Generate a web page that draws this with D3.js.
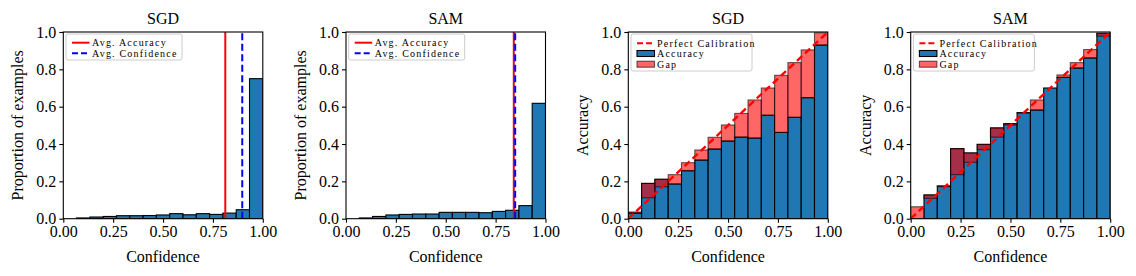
<!DOCTYPE html>
<html>
<head>
<meta charset="utf-8">
<script src="https://cdn.jsdelivr.net/npm/d3@7"></script>
<style>
  body { margin: 0; background: #fff; }
  text { font-family: "Liberation Serif", "Times New Roman", serif; fill: #000; }
  .tick text { font-family: "Liberation Serif", "Times New Roman", serif !important; font-size: 16px !important; }
</style>
</head>
<body>
<div id="chart"></div>
<script>
// 15 equal confidence bins on [0, 1]
var binCount = 15;

// proportion of examples per bin (left panels)
var sgdProp = [0.000, 0.004, 0.009, 0.012, 0.016, 0.016, 0.017, 0.020, 0.027, 0.021, 0.027, 0.023, 0.030, 0.048, 0.750];
var samProp = [0.000, 0.004, 0.012, 0.020, 0.023, 0.025, 0.025, 0.034, 0.034, 0.034, 0.032, 0.039, 0.045, 0.070, 0.618];

// avg accuracy / avg confidence lines
var sgdAvgAcc = 0.812, sgdAvgConf = 0.897;
var samAvgAcc = 0.841, samAvgConf = 0.848;

// reliability diagrams: accuracy and mean confidence per bin
var sgdAcc  = [0.030, 0.189, 0.211, 0.186, 0.257, 0.314, 0.373, 0.416, 0.437, 0.432, 0.554, 0.462, 0.543, 0.648, 0.930];
var sgdConf = [0.036, 0.112, 0.171, 0.236, 0.300, 0.368, 0.436, 0.502, 0.564, 0.636, 0.700, 0.768, 0.836, 0.904, 0.996];
var samAcc  = [0.000, 0.127, 0.175, 0.375, 0.352, 0.398, 0.486, 0.509, 0.568, 0.582, 0.700, 0.757, 0.807, 0.861, 0.993];
var samConf = [0.064, 0.109, 0.172, 0.236, 0.302, 0.370, 0.437, 0.502, 0.566, 0.636, 0.700, 0.770, 0.836, 0.906, 0.978];

var xTicks = [0, 0.25, 0.5, 0.75, 1];
var yTicks = [0, 0.2, 0.4, 0.6, 0.8, 1];

var blue = "#1f77b4";

var svgWidth = 1136, svgHeight = 276;
var plotTop = 32, plotH = 186.7, plotW = 199.5;

var svg = d3.select("#chart")
  .append("svg")
  .attr("width", svgWidth)
  .attr("height", svgHeight);

var bins = d3.range(binCount).map(i => ({ x0: i / binCount, x1: (i + 1) / binCount }));

// sets up one panel with axes, title and labels
function makePanel(id, left, title, yLabel) {
  var g = svg.append("g").attr("transform", `translate(${left}, ${plotTop})`);
  var x = d3.scaleLinear().domain([0, 1]).range([0, plotW]);
  var y = d3.scaleLinear().domain([0, 1]).range([plotH, 0]);

  g.append("clipPath").attr("id", "clip" + id)
    .append("rect").attr("width", plotW).attr("height", plotH);

  var xAxis = g.append("g")
    .attr("transform", `translate(0, ${plotH})`)
    .call(d3.axisBottom(x).tickValues(xTicks).tickFormat(d3.format(".2f")).tickSize(4).tickPadding(3));
  var yAxis = g.append("g")
    .call(d3.axisLeft(y).tickValues(yTicks).tickFormat(d3.format(".1f")).tickSize(4).tickPadding(3));
  [xAxis, yAxis].forEach(a => {
    a.attr("font-family", null).attr("font-size", null);
    a.select(".domain").remove();
    a.selectAll("line").attr("stroke", "#000").attr("stroke-width", 1.1);
  });

  g.append("text")
    .attr("x", plotW / 2).attr("y", -8.5)
    .attr("text-anchor", "middle")
    .style("font-size", "16px")
    .text(title);

  g.append("text")
    .attr("x", plotW / 2).attr("y", plotH + 43.5)
    .attr("text-anchor", "middle")
    .style("font-size", "16px")
    .text("Confidence");

  g.append("text")
    .attr("transform", `translate(-45.5, ${plotH / 2}) rotate(-90)`)
    .attr("text-anchor", "middle")
    .attr("dominant-baseline", "central")
    .style("font-size", "16px")
    .text(yLabel);

  var marks = g.append("g").attr("clip-path", `url(#clip${id})`);
  return { g: g, marks: marks, x: x, y: y };
}

function drawFrame(p) {
  p.g.append("rect")
    .attr("width", plotW).attr("height", plotH)
    .attr("fill", "none").attr("stroke", "#000").attr("stroke-width", 1.1);
}

function legendBox(p, w, h) {
  var lg = p.g.append("g").attr("transform", "translate(2.7, 2)");
  lg.append("rect")
    .attr("width", w).attr("height", h).attr("rx", 2)
    .attr("fill", "#fff").attr("fill-opacity", 0.8)
    .attr("stroke", "#ccc").attr("stroke-width", 1);
  return lg;
}

function legendText(lg, y, label) {
  lg.append("text")
    .attr("x", 26).attr("y", y)
    .attr("dominant-baseline", "central")
    .style("font-size", "10px")
    .style("letter-spacing", "1.2px")
    .text(label);
}

// histogram panel
function histPanel(id, left, title, prop, avgAcc, avgConf) {
  var p = makePanel(id, left, title, "Proportion of examples");

  p.marks.selectAll("rect.bar")
    .data(bins)
    .enter()
    .append("rect")
    .attr("x", d => p.x(d.x0))
    .attr("width", d => p.x(d.x1) - p.x(d.x0))
    .attr("y", (d, i) => p.y(prop[i]))
    .attr("height", (d, i) => p.y(0) - p.y(prop[i]))
    .attr("fill", blue)
    .attr("stroke", "#000")
    .attr("stroke-width", 1.1);

  p.marks.append("line")
    .attr("x1", p.x(avgAcc)).attr("x2", p.x(avgAcc))
    .attr("y1", p.y(0)).attr("y2", p.y(1))
    .attr("stroke", "red").attr("stroke-width", 2);

  p.marks.append("line")
    .attr("x1", p.x(avgConf)).attr("x2", p.x(avgConf))
    .attr("y1", p.y(0)).attr("y2", p.y(1))
    .attr("stroke", "blue").attr("stroke-width", 2)
    .attr("stroke-dasharray", "7,3.5");

  drawFrame(p);

  var lg = legendBox(p, 116, 26);
  lg.append("line").attr("x1", 6).attr("x2", 23.5).attr("y1", 8.7).attr("y2", 8.7)
    .attr("stroke", "red").attr("stroke-width", 2);
  lg.append("line").attr("x1", 6).attr("x2", 23.5).attr("y1", 19.3).attr("y2", 19.3)
    .attr("stroke", "blue").attr("stroke-width", 2).attr("stroke-dasharray", "6,3");
  legendText(lg, 8.7, "Avg. Accuracy");
  legendText(lg, 19.3, "Avg. Confidence");
}

// reliability diagram panel
function reliabilityPanel(id, left, title, acc, conf) {
  var p = makePanel(id, left, title, "Accuracy");

  p.marks.selectAll("rect.acc")
    .data(bins)
    .enter()
    .append("rect")
    .attr("x", d => p.x(d.x0))
    .attr("width", d => p.x(d.x1) - p.x(d.x0))
    .attr("y", (d, i) => p.y(acc[i]))
    .attr("height", (d, i) => p.y(0) - p.y(acc[i]))
    .attr("fill", blue)
    .attr("stroke", "#000")
    .attr("stroke-width", 1.1);

  // gap between accuracy and confidence
  p.marks.selectAll("rect.gap")
    .data(bins)
    .enter()
    .append("rect")
    .attr("x", d => p.x(d.x0))
    .attr("width", d => p.x(d.x1) - p.x(d.x0))
    .attr("y", (d, i) => p.y(Math.max(acc[i], conf[i])))
    .attr("height", (d, i) => Math.abs(p.y(acc[i]) - p.y(conf[i])))
    .attr("fill", "red").attr("fill-opacity", 0.6)
    .attr("stroke", "#000").attr("stroke-opacity", 0.6)
    .attr("stroke-width", 1.1);

  p.marks.append("line")
    .attr("x1", p.x(0)).attr("y1", p.y(0))
    .attr("x2", p.x(1)).attr("y2", p.y(1))
    .attr("stroke", "red").attr("stroke-width", 2.4)
    .attr("stroke-dasharray", "7,4");

  drawFrame(p);

  var lg = legendBox(p, 121, 37);
  lg.append("line").attr("x1", 6).attr("x2", 23.5).attr("y1", 9.3).attr("y2", 9.3)
    .attr("stroke", "red").attr("stroke-width", 2).attr("stroke-dasharray", "6,3");
  lg.append("rect").attr("x", 6).attr("y", 16.5).attr("width", 17.5).attr("height", 6)
    .attr("fill", blue).attr("stroke", "#000").attr("stroke-width", 1.1);
  lg.append("rect").attr("x", 6).attr("y", 27.2).attr("width", 17.5).attr("height", 6)
    .attr("fill", "red").attr("fill-opacity", 0.6)
    .attr("stroke", "#000").attr("stroke-opacity", 0.6).attr("stroke-width", 1.1);
  legendText(lg, 9.3, "Perfect Calibration");
  legendText(lg, 19.5, "Accuracy");
  legendText(lg, 30.2, "Gap");
}

histPanel(1, 63.3, "SGD", sgdProp, sgdAvgAcc, sgdAvgConf);
histPanel(2, 346, "SAM", samProp, samAvgAcc, samAvgConf);
reliabilityPanel(3, 628.3, "SGD", sgdAcc, sgdConf);
reliabilityPanel(4, 910.7, "SAM", samAcc, samConf);
</script>
</body>
</html>
